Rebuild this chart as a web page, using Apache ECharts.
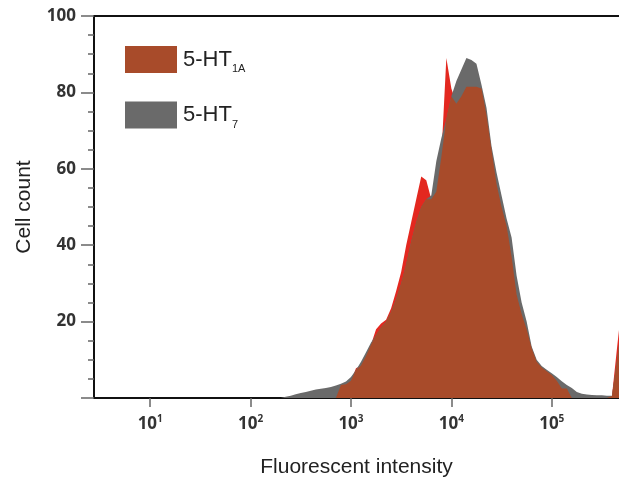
<!DOCTYPE html>
<html>
<head>
<meta charset="utf-8">
<title>Cell count histogram</title>
<script src="https://cdn.jsdelivr.net/npm/echarts@6.0.0/dist/echarts.min.js"></script>
<style>
  html, body { margin: 0; padding: 0; background: #fff; }
  #histchart { width: 619px; height: 479px; }
</style>
</head>
<body>
<div id="histchart"></div>
<script>
// bin centres, log10(fluorescent intensity)
var logBins = [2.30, 2.35, 2.40, 2.45, 2.50, 2.55, 2.60, 2.65, 2.70, 2.75,
               2.80, 2.85, 2.90, 2.95, 3.00, 3.05, 3.10, 3.15, 3.20, 3.25,
               3.30, 3.35, 3.40, 3.45, 3.50, 3.55, 3.60, 3.65, 3.70, 3.75,
               3.80, 3.85, 3.90, 3.95, 4.00, 4.05, 4.10, 4.15, 4.20, 4.25,
               4.30, 4.35, 4.40, 4.45, 4.50, 4.55, 4.60, 4.65, 4.70, 4.75,
               4.80, 4.85, 4.90, 4.95, 5.00, 5.05, 5.10, 5.15, 5.20, 5.25,
               5.30, 5.35, 5.40, 5.45, 5.50, 5.55, 5.60, 5.65, 5.70];
// cell counts per bin
var ht7 = [0, 0.3, 0.6, 1.0, 1.3, 1.6, 1.9, 2.2, 2.4, 2.6,
           2.9, 3.3, 3.7, 4.3, 5.5, 7.3, 9.5, 12, 14.5, 16.5,
           18.5, 20, 22.5, 26, 30, 35, 41, 46, 50, 52,
           53, 62, 68, 73, 79, 83, 86, 89, 88.5, 87.5,
           82, 76, 66, 59, 53, 47, 42, 32, 25, 20,
           13.5, 10, 8.4, 7.4, 6.5, 5.5, 4.4, 3.4, 2.6, 1.6,
           1.1, 0.9, 0.8, 0.7, 0.7, 0.6, 0.6, 10, 20];
var ht1a = [0, 0, 0, 0, 0, 0, 0, 0, 0, 0,
            0, 0, 3.4, 3.6, 4.5, 7.8, 8.5, 11, 14, 18,
            19.5, 20.5, 23.5, 28, 33, 40, 46, 52, 58, 57,
            52, 54, 63, 89, 81, 77, 79, 81.5, 81.5, 81.5,
            81, 74, 65, 56, 50, 45, 37, 27, 22, 18,
            13, 9.5, 8, 7, 6, 4.5, 2.5, 2.5, 0, 0,
            0, 0, 0, 0, 0, 0, 0.5, 13, 25];
var xTicks = [1, 2, 3, 4, 5];

var colRed = '#e3281f';
var colGray = '#6a6a6a';
var colBrown = '#a84b2a';

function pairs(vals) {
  var out = [];
  for (var i = 0; i < logBins.length; i++) out.push([logBins[i], vals[i]]);
  return out;
}
// where the two histograms overlap the overlay turns brown
var overlap = [];
for (var i = 0; i < logBins.length; i++) overlap.push(Math.min(ht7[i], ht1a[i]));

function areaSeries(name, vals, color) {
  return {
    name: name,
    type: 'line',
    data: pairs(vals),
    symbol: 'none',
    lineStyle: { width: 0 },
    itemStyle: { color: color },
    areaStyle: { color: color, opacity: 1 },
    silent: true
  };
}

var myChart = echarts.init(document.getElementById('histchart'));
var option = {
  animation: false,
  grid: { left: 94, right: 0, top: 16, bottom: 81, outerBoundsMode: 'none' },
  legend: {
    orient: 'vertical',
    left: 120,
    top: 41,
    icon: 'rect',
    itemWidth: 52,
    itemHeight: 27,
    itemGap: 27,
    selectedMode: false,
    data: [
      { name: '5-HT1A', itemStyle: { color: colBrown } },
      { name: '5-HT7', itemStyle: { color: colGray } }
    ],
    formatter: function (name) {
      return name === '5-HT1A' ? '{b|5-HT}{s|1A}' : '{b|5-HT}{s|7}';
    },
    textStyle: {
      rich: {
        b: { fontFamily: 'Liberation Sans', fontSize: 22, color: '#222', lineHeight: 30, padding: [0, 0, 0, 1] },
        s: { fontFamily: 'Liberation Sans', fontSize: 11, color: '#222', lineHeight: 30, verticalAlign: 'bottom' }
      }
    }
  },
  xAxis: [{
    type: 'value',
    min: 0.44,
    max: 5.67,
    name: 'Fluorescent intensity',
    nameLocation: 'middle',
    nameGap: 59,
    nameTextStyle: { fontFamily: 'Liberation Sans', fontSize: 21, color: '#222' },
    axisLine: { lineStyle: { color: '#111', width: 2 } },
    axisTick: { customValues: xTicks, length: 9, lineStyle: { color: '#666', width: 1.5 } },
    axisLabel: {
      customValues: xTicks,
      margin: 16,
      formatter: function (v) { return '{b|10}{s|' + v + '}'; },
      rich: {
        b: { fontFamily: 'Open Sans', fontSize: 17, fontWeight: 'bold', color: '#333', lineHeight: 20 },
        s: { fontFamily: 'Open Sans', fontSize: 10, fontWeight: 'bold', color: '#333', lineHeight: 20, verticalAlign: 'top' }
      }
    },
    splitLine: { show: false }
  }, {
    type: 'value',
    position: 'top',
    min: 0.44,
    max: 5.67,
    axisLine: { lineStyle: { color: '#111', width: 2 } },
    axisTick: { show: false },
    axisLabel: { show: false },
    splitLine: { show: false }
  }],
  yAxis: {
    type: 'value',
    min: 0,
    max: 100,
    interval: 20,
    name: 'Cell count',
    nameLocation: 'middle',
    nameGap: 59,
    nameTextStyle: { fontFamily: 'Liberation Sans', fontSize: 21, color: '#222' },
    axisLine: { show: true, lineStyle: { color: '#111', width: 2 } },
    axisTick: { length: 13, lineStyle: { color: '#666', width: 1.5 } },
    minorTick: { show: true, splitNumber: 4, length: 6, lineStyle: { color: '#666', width: 1.5 } },
    axisLabel: {
      margin: 18,
      fontFamily: 'Open Sans',
      fontSize: 17,
      fontWeight: 'bold',
      color: '#333',
      formatter: function (v) { return v === 0 ? '' : v; }
    },
    splitLine: { show: false }
  },
  series: [
    areaSeries('5-HT1A', ht1a, colRed),
    areaSeries('5-HT7', ht7, colGray),
    areaSeries('overlap', overlap, colBrown)
  ]
};
myChart.setOption(option);
window.addEventListener('resize', function () {
  myChart.resize();
});
</script>
</body>
</html>
